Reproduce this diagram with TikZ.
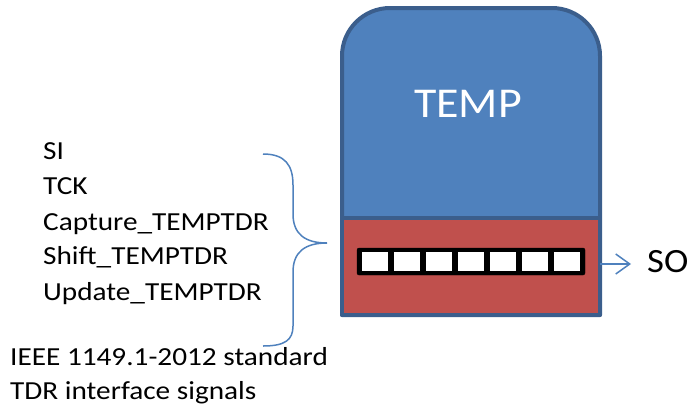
\documentclass[tikz,border=0pt]{standalone}
\usepackage{fontspec}
\setmainfont{Carlito}
\newfontfamily\sigfont[FakeStretch=1.125]{Carlito}
\newfontfamily\tempfont[FakeStretch=1.08]{Carlito}
\usetikzlibrary{arrows.meta}
\definecolor{boxblue}{HTML}{4F81BD}
\definecolor{boxedge}{HTML}{3B5E8C}
\definecolor{boxred}{HTML}{C0504D}
\begin{document}
\begin{tikzpicture}[x=1pt,y=-1pt,
  sig/.style={anchor=base west,inner sep=0pt,font=\sigfont\fontsize{26}{30}\selectfont},
  cell/.style={fill=white,draw=none,minimum width=26pt,minimum height=19pt,inner sep=0pt},
  conn/.style={draw=boxblue,line width=1.5pt}]
\useasboundingbox (0,0) rectangle (692,410);
% main block
\path[fill=boxblue,draw=boxedge,line width=4pt,line join=round]
  (342,315) [rounded corners=48pt] -- (342,8) -- (600,8) [sharp corners] -- (600,315) -- cycle;
\path[fill=boxred] (342,218) rectangle (600,315);
\draw[boxedge,line width=4pt,line join=round] (342,315) -- (342,218) -- (600,218) -- (600,315) -- cycle;
\node[anchor=base,inner sep=0pt,text=white,font=\tempfont\fontsize{42.5}{48}\selectfont] (temp) at (468,117.5) {TEMP};
% register
\node[draw=black,fill=black,rounded corners=2pt,minimum width=228pt,minimum height=27pt,inner sep=0pt] (reg) at (471,261.5) {};
\foreach \i in {0,...,6}{
  \node[cell] (c\i) at ({375+\i*32},261.5) {};
}
% output
\node[anchor=base west,inner sep=0pt,font=\tempfont\fontsize{34}{40}\selectfont] (so) at (647,272) {SO};
\coordinate (aout) at (600,264);
\coordinate (aend) at (631,264);
\draw[conn,-{Straight Barb[length=14pt,width=20pt,line width=1.5pt]}] (aout) -- (aend);
% signals
\node[sig] (si) at (43,159) {SI};
\node[sig] (tck) at (43,194) {TCK};
\node[sig] (cap) at (43,230) {Capture\_TEMPTDR};
\node[sig] (shf) at (43,264) {Shift\_TEMPTDR};
\node[sig] (upd) at (43,300) {Update\_TEMPTDR};
\node[sig] (ieee) at (10,365) {IEEE 1149.1-2012 standard};
\node[sig] (tdr) at (10,399) {TDR interface signals};
% brace
\draw[conn] (263,154) .. controls (285,154) and (293,165) .. (293,185) -- (293,214)
  .. controls (293,234) and (305,243) .. (327,243)
  .. controls (305,243) and (293,252) .. (293,272) -- (293,326)
  .. controls (293,340) and (285,346) .. (263,346);
\end{tikzpicture}
\end{document}
